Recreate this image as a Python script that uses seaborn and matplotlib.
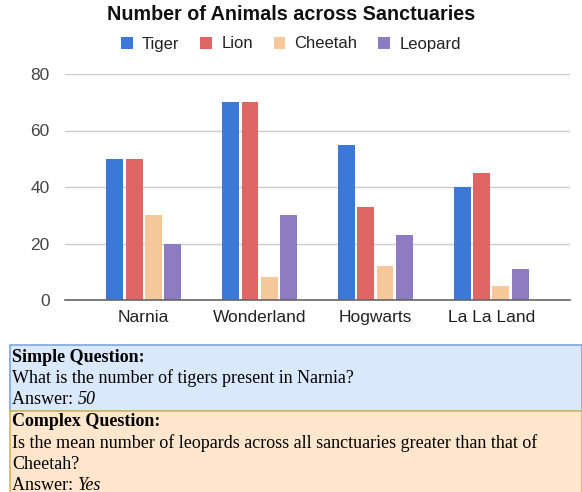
import matplotlib
matplotlib.use("Agg")
import matplotlib.pyplot as plt
from matplotlib.patches import Rectangle, Patch
import seaborn as sns
import pandas as pd

sanctuaries = ["Narnia", "Wonderland", "Hogwarts", "La La Land"]
animals = ["Tiger", "Lion", "Cheetah", "Leopard"]
tiger = [50, 70, 55, 40]
lion = [50, 70, 33, 45]
cheetah = [30, 8, 12, 5]
leopard = [20, 30, 23, 11]
colors = ["#3c78d8", "#e06666", "#f6c799", "#8e7cc3"]
y_ticks = [0, 20, 40, 60, 80]

rows = []
for name, vals in zip(animals, [tiger, lion, cheetah, leopard]):
    for s, v in zip(sanctuaries, vals):
        rows.append({"Sanctuary": s, "Animal": name, "Count": v})
df = pd.DataFrame(rows)

sns.set_theme(style="white")
plt.rcParams['font.family'] = ['Liberation Sans', 'DejaVu Sans']

W, H = 582, 492
fig = plt.figure(figsize=(W / 100, H / 100), dpi=100)
ax = fig.add_axes([65 / W, (H - 300) / H, (570 - 65) / W, (300 - 74) / H])

sns.barplot(data=df, x="Sanctuary", y="Count", hue="Animal", order=sanctuaries,
            hue_order=animals, palette=colors, width=0.664, gap=0.12,
            saturation=1, ax=ax, legend=False, edgecolor="none")

ax.set_xlim(-0.68, 3.68)
ax.set_ylim(0, 80)
ax.set_yticks(y_ticks)
ax.set_yticklabels([str(t) for t in y_ticks], fontsize=12.5, color="#444444")
ax.set_xticklabels(sanctuaries, fontsize=12.5, color="#222222")
ax.tick_params(axis="y", length=0, pad=11)
ax.tick_params(axis="x", length=0, pad=7)
ax.set_xlabel("")
ax.set_ylabel("")
ax.grid(axis="y", color="#cccccc", linewidth=1)
ax.set_axisbelow(True)
for side in ["top", "right", "left"]:
    ax.spines[side].set_visible(False)
ax.spines["bottom"].set_color("#666666")
ax.spines["bottom"].set_linewidth(1.2)

fig.text(0.5, 1 - 14 / H, "Number of Animals across Sanctuaries", ha="center", va="center",
         fontsize=14.2, fontweight="bold", color="#111111")

handles = [Patch(facecolor=c, edgecolor="none", label=a) for a, c in zip(animals, colors)]
fig.legend(handles=handles, loc="center", bbox_to_anchor=(0.5, 1 - 44 / H), ncol=4,
           frameon=False, fontsize=12, handlelength=0.7, handleheight=0.7,
           handletextpad=0.55, columnspacing=1.25, labelcolor="#222222")

# Question boxes
blue_top, blue_bot = 345, 411
fig.patches.append(Rectangle((10 / W, (H - blue_bot) / H), (W - 10) / W, (blue_bot - blue_top) / H,
                             transform=fig.transFigure, facecolor="#dae8fc", edgecolor="#7ea6e0",
                             linewidth=1.2, zorder=0))
fig.patches.append(Rectangle((10 / W, -0.01), (W - 10) / W, (H - blue_bot) / H + 0.01,
                             transform=fig.transFigure, facecolor="#ffe6cc", edgecolor="#d6b656",
                             linewidth=1.2, zorder=0))

serif = ['Liberation Serif', 'DejaVu Serif']
fs = 13
renderer = fig.canvas.get_renderer()

def line(y, parts):
    x = 12
    for txt, kw in parts:
        t = fig.text(x / W, 1 - y / H, txt, ha="left", va="center", fontsize=fs, family=serif,
                     color="#000000", zorder=5, **kw)
        bb = t.get_window_extent(renderer=renderer)
        x = bb.x1

line(357, [("Simple Question:", {"fontweight": "bold"})])
line(378.5, [("What is the number of tigers present in Narnia?", {})])
line(400, [("Answer: ", {}), ("50", {"style": "italic"})])
line(421.5, [("Complex Question:", {"fontweight": "bold"})])
line(443, [("Is the mean number of leopards across all sanctuaries greater than that of", {})])
line(464.5, [("Cheetah?", {})])
line(485, [("Answer: ", {}), ("Yes", {"style": "italic"})])

fig.savefig("out.png", dpi=100)
